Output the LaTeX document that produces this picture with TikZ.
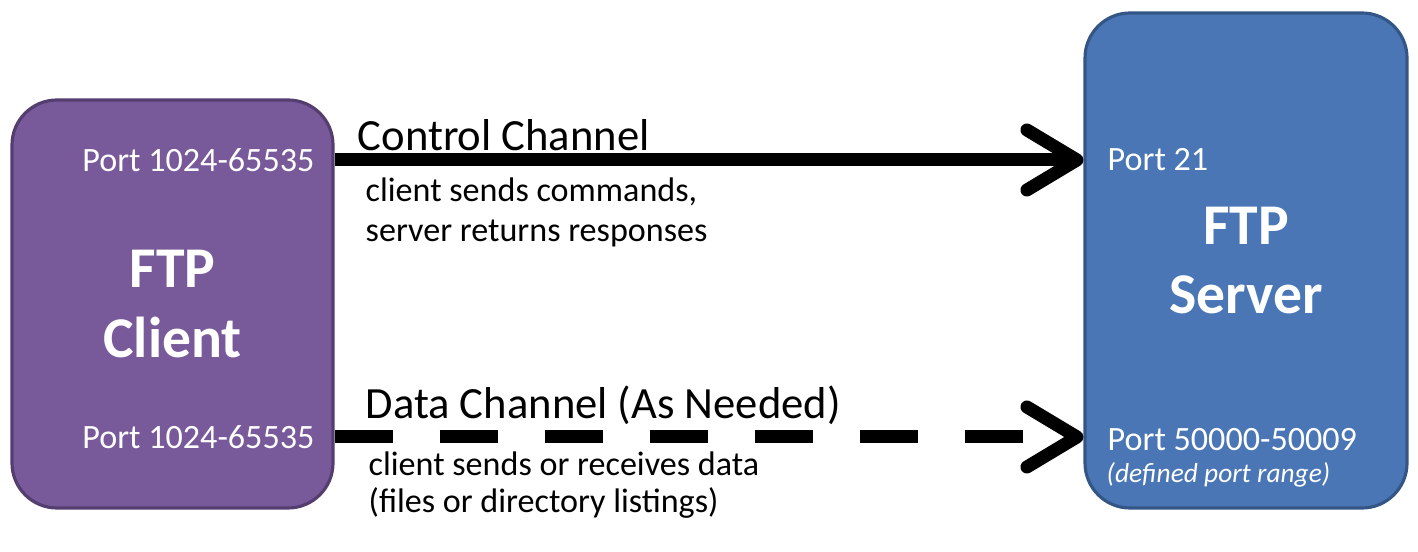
\documentclass[tikz,border=0pt]{standalone}
\usepackage{fontspec}
\setmainfont{Carlito}
\usetikzlibrary{arrows.meta}
\definecolor{clientpurple}{RGB}{120,90,155}
\definecolor{clientedge}{RGB}{84,62,112}
\definecolor{serverblue}{RGB}{74,118,182}
\definecolor{serveredge}{RGB}{52,86,135}
\begin{document}
\begin{tikzpicture}[
    box/.style={draw, line width=0.9pt, rounded corners=0.45cm, inner sep=0pt,
        text=white, align=center, font=\fontsize{16.4}{19.9}\selectfont\bfseries},
    port/.style={inner sep=0pt, text=white, font=\fontsize{9.7}{11.6}\selectfont},
    title/.style={inner sep=0pt, anchor=west, font=\fontsize{12.7}{15}\selectfont},
    note/.style={inner sep=0pt, anchor=west, align=left},
    channel/.style={line width=0.13cm,
        -{Straight Barb[length=0.5cm,width=0.6cm,line cap=round,line join=round]}}
]
    \useasboundingbox (0,0) rectangle (14.18,5.52);
    %draw boxes
    \node[box, fill=clientpurple, draw=clientedge, minimum width=3.21cm, minimum height=4.08cm]
        (client) at (1.725,2.48) {FTP\\Client};
    \node[box, fill=serverblue, draw=serveredge, minimum width=3.22cm, minimum height=4.95cm]
        (server) at (12.46,2.915) {FTP\\Server};
    %draw port labels
    \node[port, anchor=east] (cctrl) at (3.15,3.92) {Port 1024-65535};
    \node[port, anchor=east] (cdata) at (3.15,1.15) {Port 1024-65535};
    \node[port, anchor=west] (sctrl) at (11.07,3.92) {Port 21};
    \node[port, anchor=west] (sdata) at (11.07,1.12) {Port 50000-50009};
    \node[port, anchor=west, font=\fontsize{7.8}{9}\selectfont\itshape] (srange) at (11.06,0.77) {(defined port range)};
    %draw channels
    \draw [channel] (client.east |- cctrl) -- (server.west |- sctrl);
    \draw [channel, dash pattern=on 0.58cm off 0.47cm] (client.east |- cdata) -- (server.west |- cdata);
    %draw channel labels
    \node[title] (ctrltitle) at (3.57,4.17) {Control Channel};
    \node[note, font=\fontsize{9.7}{11.4}\selectfont] (ctrlnote) at (3.65,3.40)
        {client sends commands,\\server returns responses};
    \node[title] (datatitle) at (3.65,1.47) {Data Channel (As Needed)};
    \node[note, font=\fontsize{9.7}{10.4}\selectfont] (datanote) at (3.68,0.67)
        {client sends or receives data\\(files or directory listings)};
\end{tikzpicture}
\end{document}
